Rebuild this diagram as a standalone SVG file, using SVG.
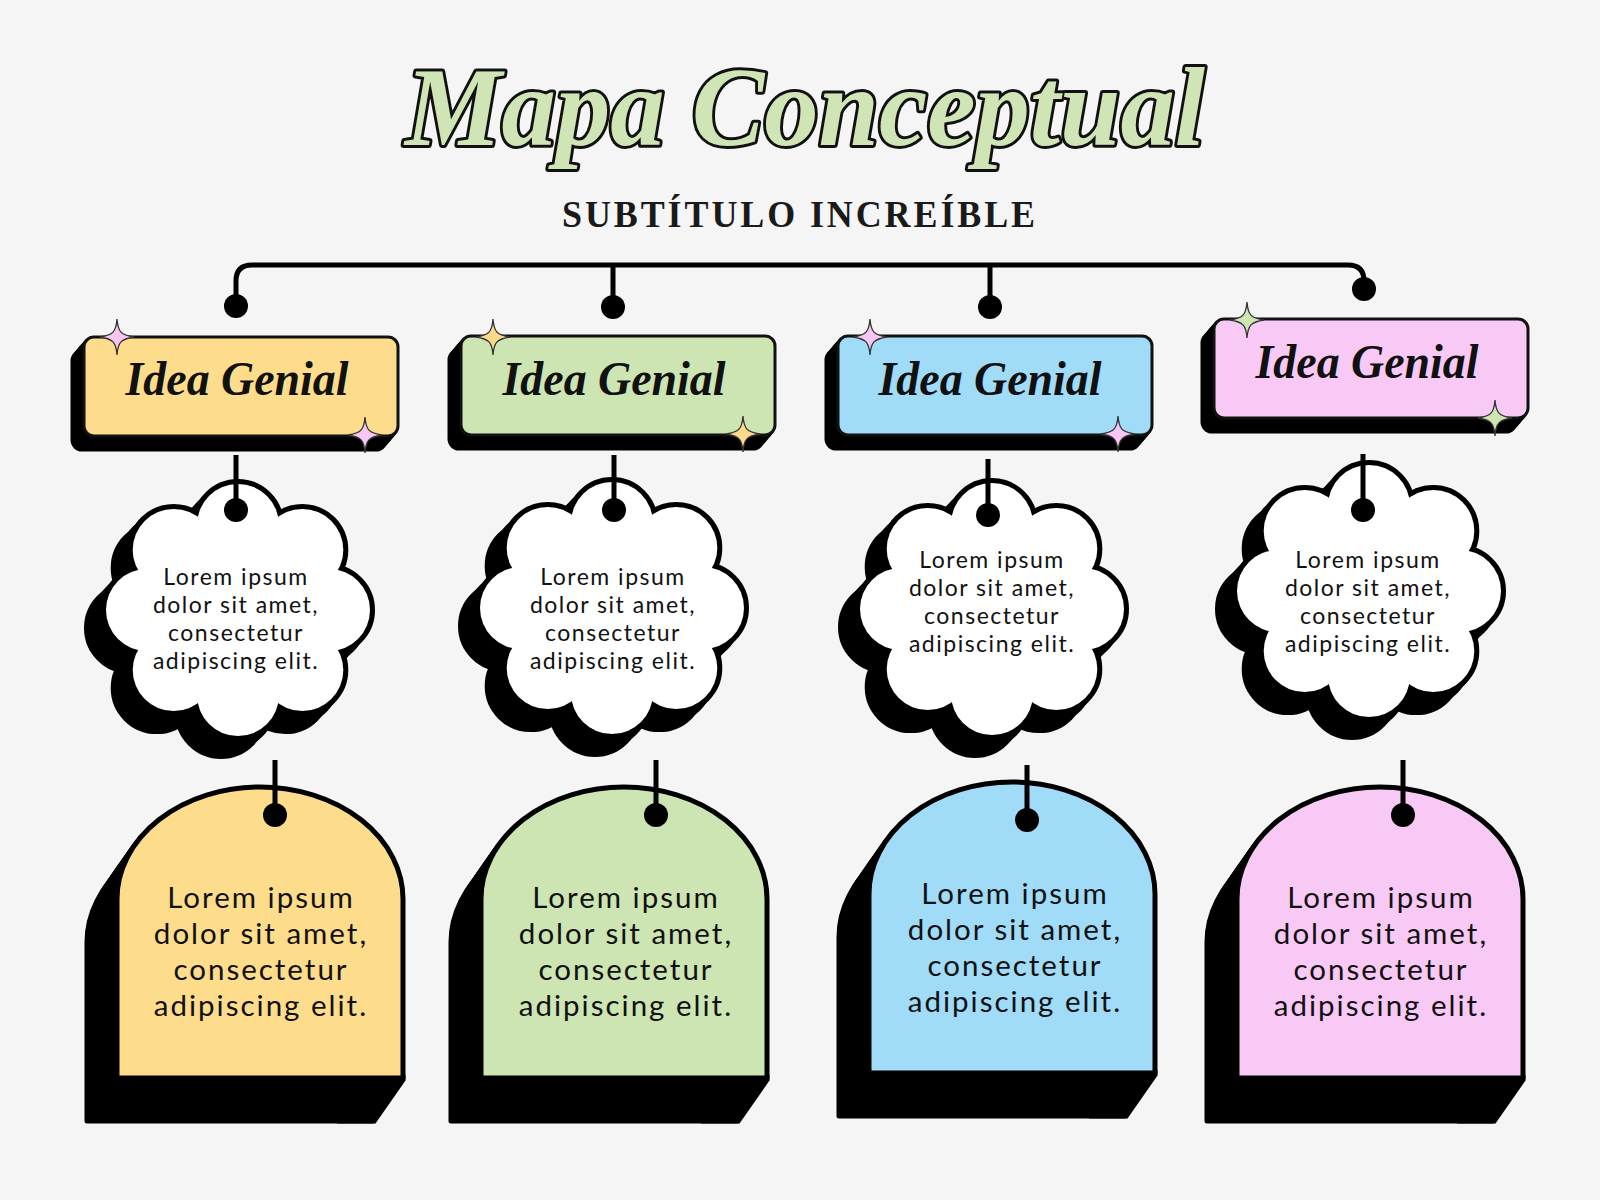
<svg xmlns="http://www.w3.org/2000/svg" xmlns:xlink="http://www.w3.org/1999/xlink" width="1600" height="1200" viewBox="0 0 1600 1200">
<style>
.title{font-family:"Liberation Serif",serif;font-weight:bold;font-style:italic;font-size:112px;fill:#cfe5b6;stroke:#111;stroke-width:6;paint-order:stroke;stroke-linejoin:round}
.sub{font-family:"Liberation Serif",serif;font-weight:bold;font-size:37px;fill:#1a1a1a;letter-spacing:3px}
.idea{font-family:"Liberation Serif",serif;font-weight:bold;font-style:italic;font-size:48px;fill:#111}
.ct{font-family:Lato,"Noto Sans",sans-serif;font-size:23px;letter-spacing:1.5px;fill:#111;text-anchor:middle}
.at{font-family:Lato,"Noto Sans",sans-serif;font-size:29.5px;letter-spacing:2px;fill:#111;text-anchor:middle}
.box{stroke:#111;stroke-width:3}
.sh{fill:#000;stroke:#000;stroke-width:3}
.arch{stroke:#000;stroke-width:5;stroke-linejoin:round}
.line{fill:none;stroke:#000;stroke-width:5;stroke-linecap:butt}
.star{stroke:#333;stroke-width:1.3}
</style>
<defs>
<path id="star" d="M0,-18 C1,-5 4,-2 17,0 C4,2 1,5 0,18 C-1,5 -4,2 -17,0 C-4,-2 -1,-5 0,-18Z"/>
<g id="cloud">
<circle cx="91" cy="0" r="41"/><circle cx="64.3" cy="60.1" r="41"/><circle cx="0" cy="85" r="41"/><circle cx="-64.3" cy="60.1" r="41"/>
<circle cx="-91" cy="0" r="41"/><circle cx="-64.3" cy="-60.1" r="41"/><circle cx="0" cy="-85" r="41"/><circle cx="64.3" cy="-60.1" r="41"/>
<ellipse cx="0" cy="0" rx="95" ry="90"/>
</g>
<g id="cloudFull">
<use xlink:href="#cloud" transform="translate(-17,18)" fill="#000" stroke="#000" stroke-width="10"/>
<use xlink:href="#cloud" transform="translate(-8,9)" fill="#000" stroke="#000" stroke-width="10"/>
<use xlink:href="#cloud" fill="#000" stroke="#000" stroke-width="10"/>
<use xlink:href="#cloud" fill="#fff"/>
</g>
<rect id="bx" x="0" y="0" width="314" height="99" rx="10"/>
<g id="boxShadow" class="sh">
<use xlink:href="#bx" x="-2" y="2.33"/><use xlink:href="#bx" x="-4" y="4.67"/><use xlink:href="#bx" x="-6" y="7"/><use xlink:href="#bx" x="-8" y="9.33"/><use xlink:href="#bx" x="-10" y="11.67"/><use xlink:href="#bx" x="-12" y="14"/>
</g>
<path id="archBase" d="M0,291 V112 A143,112 0 0 1 286,112 V291 Z"/>
<g id="archShadowSteps">
<use xlink:href="#archBase" x="-2.5" y="3.6"/><use xlink:href="#archBase" x="-5" y="7.2"/><use xlink:href="#archBase" x="-7.5" y="10.8"/><use xlink:href="#archBase" x="-10" y="14.3"/><use xlink:href="#archBase" x="-12.5" y="17.9"/><use xlink:href="#archBase" x="-15" y="21.5"/><use xlink:href="#archBase" x="-17.5" y="25.1"/><use xlink:href="#archBase" x="-20" y="28.7"/><use xlink:href="#archBase" x="-22.5" y="32.3"/><use xlink:href="#archBase" x="-25" y="35.8"/><use xlink:href="#archBase" x="-27.5" y="39.4"/><use xlink:href="#archBase" x="-30" y="43"/>
<polygon stroke="none" points="288.5,288 288.5,293.5 258.5,336.5 220,336.5 220,288"/>
</g>
</defs>
<rect width="1600" height="1200" fill="#f5f5f5"/>

<g id="title">
<text class="title" x="805" y="145" text-anchor="middle" textLength="800" lengthAdjust="spacingAndGlyphs">Mapa Conceptual</text>
</g>
<g id="subtitle">
<text class="sub" x="800" y="227" text-anchor="middle" textLength="476" lengthAdjust="spacingAndGlyphs">SUBTÍTULO INCREÍBLE</text>
</g>

<!-- Idea boxes -->
<g id="idea-1">
<use xlink:href="#boxShadow" x="84" y="337"/>
<use xlink:href="#bx" class="box" x="84" y="337" fill="#fddc8c"/>
<text class="idea" x="237" y="395" text-anchor="middle" textLength="223" lengthAdjust="spacingAndGlyphs">Idea Genial</text>
<use xlink:href="#star" class="star" x="117" y="337" fill="#f7c6f2"/>
<use xlink:href="#star" class="star" x="365" y="435" fill="#f7c6f2"/>
</g>
<g id="idea-2">
<use xlink:href="#boxShadow" x="461" y="336"/>
<use xlink:href="#bx" class="box" x="461" y="336" fill="#cde4b3"/>
<text class="idea" x="614" y="395" text-anchor="middle" textLength="223" lengthAdjust="spacingAndGlyphs">Idea Genial</text>
<use xlink:href="#star" class="star" x="493" y="337" fill="#fdd98a"/>
<use xlink:href="#star" class="star" x="743" y="434" fill="#fdd98a"/>
</g>
<g id="idea-3">
<use xlink:href="#boxShadow" x="838" y="336"/>
<use xlink:href="#bx" class="box" x="838" y="336" fill="#a0dbf8"/>
<text class="idea" x="990" y="395" text-anchor="middle" textLength="223" lengthAdjust="spacingAndGlyphs">Idea Genial</text>
<use xlink:href="#star" class="star" x="870" y="337" fill="#f7c6f2"/>
<use xlink:href="#star" class="star" x="1118" y="434" fill="#f7c6f2"/>
</g>
<g id="idea-4">
<use xlink:href="#boxShadow" x="1214" y="319"/>
<use xlink:href="#bx" class="box" x="1214" y="319" fill="#f9c9f6"/>
<text class="idea" x="1367" y="378" text-anchor="middle" textLength="223" lengthAdjust="spacingAndGlyphs">Idea Genial</text>
<use xlink:href="#star" class="star" x="1247" y="320" fill="#cde4b3"/>
<use xlink:href="#star" class="star" x="1495" y="418" fill="#cde4b3"/>
</g>

<!-- Clouds -->
<g id="cloud-1">
<use xlink:href="#cloudFull" x="238" y="610"/>
<text class="ct"><tspan x="236" y="585">Lorem ipsum</tspan><tspan x="236" y="613">dolor sit amet,</tspan><tspan x="236" y="641">consectetur</tspan><tspan x="236" y="669">adipiscing elit.</tspan></text>
</g>
<g id="cloud-2">
<use xlink:href="#cloudFull" x="612" y="608"/>
<text class="ct"><tspan x="613" y="585">Lorem ipsum</tspan><tspan x="613" y="613">dolor sit amet,</tspan><tspan x="613" y="641">consectetur</tspan><tspan x="613" y="669">adipiscing elit.</tspan></text>
</g>
<g id="cloud-3">
<use xlink:href="#cloudFull" x="992" y="609"/>
<text class="ct"><tspan x="992" y="568">Lorem ipsum</tspan><tspan x="992" y="596">dolor sit amet,</tspan><tspan x="992" y="624">consectetur</tspan><tspan x="992" y="652">adipiscing elit.</tspan></text>
</g>
<g id="cloud-4">
<use xlink:href="#cloudFull" x="1369" y="591"/>
<text class="ct"><tspan x="1368" y="568">Lorem ipsum</tspan><tspan x="1368" y="596">dolor sit amet,</tspan><tspan x="1368" y="624">consectetur</tspan><tspan x="1368" y="652">adipiscing elit.</tspan></text>
</g>

<!-- Arches -->
<g id="arch-1">
<use xlink:href="#archShadowSteps" class="arch" fill="#000" x="117" y="787"/>
<use xlink:href="#archBase" class="arch" fill="#fddc8c" x="117" y="787"/>
<text class="at"><tspan x="261" y="908">Lorem ipsum</tspan><tspan x="261" y="944">dolor sit amet,</tspan><tspan x="261" y="980">consectetur</tspan><tspan x="261" y="1016">adipiscing elit.</tspan></text>
</g>
<g id="arch-2">
<use xlink:href="#archShadowSteps" class="arch" fill="#000" x="481" y="787"/>
<use xlink:href="#archBase" class="arch" fill="#cde4b3" x="481" y="787"/>
<text class="at"><tspan x="626" y="908">Lorem ipsum</tspan><tspan x="626" y="944">dolor sit amet,</tspan><tspan x="626" y="980">consectetur</tspan><tspan x="626" y="1016">adipiscing elit.</tspan></text>
</g>
<g id="arch-3">
<use xlink:href="#archShadowSteps" class="arch" fill="#000" x="869" y="782"/>
<use xlink:href="#archBase" class="arch" fill="#a0dbf8" x="869" y="782"/>
<text class="at"><tspan x="1015" y="904">Lorem ipsum</tspan><tspan x="1015" y="940">dolor sit amet,</tspan><tspan x="1015" y="976">consectetur</tspan><tspan x="1015" y="1012">adipiscing elit.</tspan></text>
</g>
<g id="arch-4">
<use xlink:href="#archShadowSteps" class="arch" fill="#000" x="1237" y="787"/>
<use xlink:href="#archBase" class="arch" fill="#f9c9f6" x="1237" y="787"/>
<text class="at"><tspan x="1381" y="908">Lorem ipsum</tspan><tspan x="1381" y="944">dolor sit amet,</tspan><tspan x="1381" y="980">consectetur</tspan><tspan x="1381" y="1016">adipiscing elit.</tspan></text>
</g>

<!-- Connectors -->
<g id="connectors" fill="#000">
<path class="line" d="M236,306 V281 Q236,265 252,265 H1348 Q1364,265 1364,281 V289"/>
<path class="line" d="M613,265 V307 M990,265 V307"/>
<circle cx="236" cy="306" r="12"/><circle cx="613" cy="307" r="12"/><circle cx="990" cy="307" r="12"/><circle cx="1364" cy="289" r="12"/>
<path class="line" d="M236,455 V510 M614,455 V510 M988,459 V515 M1363,454 V510"/>
<circle cx="236" cy="510" r="12"/><circle cx="614" cy="510" r="12"/><circle cx="988" cy="515" r="12"/><circle cx="1363" cy="510" r="12"/>
<path class="line" d="M275,760 V815 M656,760 V815 M1027,765 V820 M1403,760 V815"/>
<circle cx="275" cy="815" r="12"/><circle cx="656" cy="815" r="12"/><circle cx="1027" cy="820" r="12"/><circle cx="1403" cy="815" r="12"/>
</g>
</svg>
